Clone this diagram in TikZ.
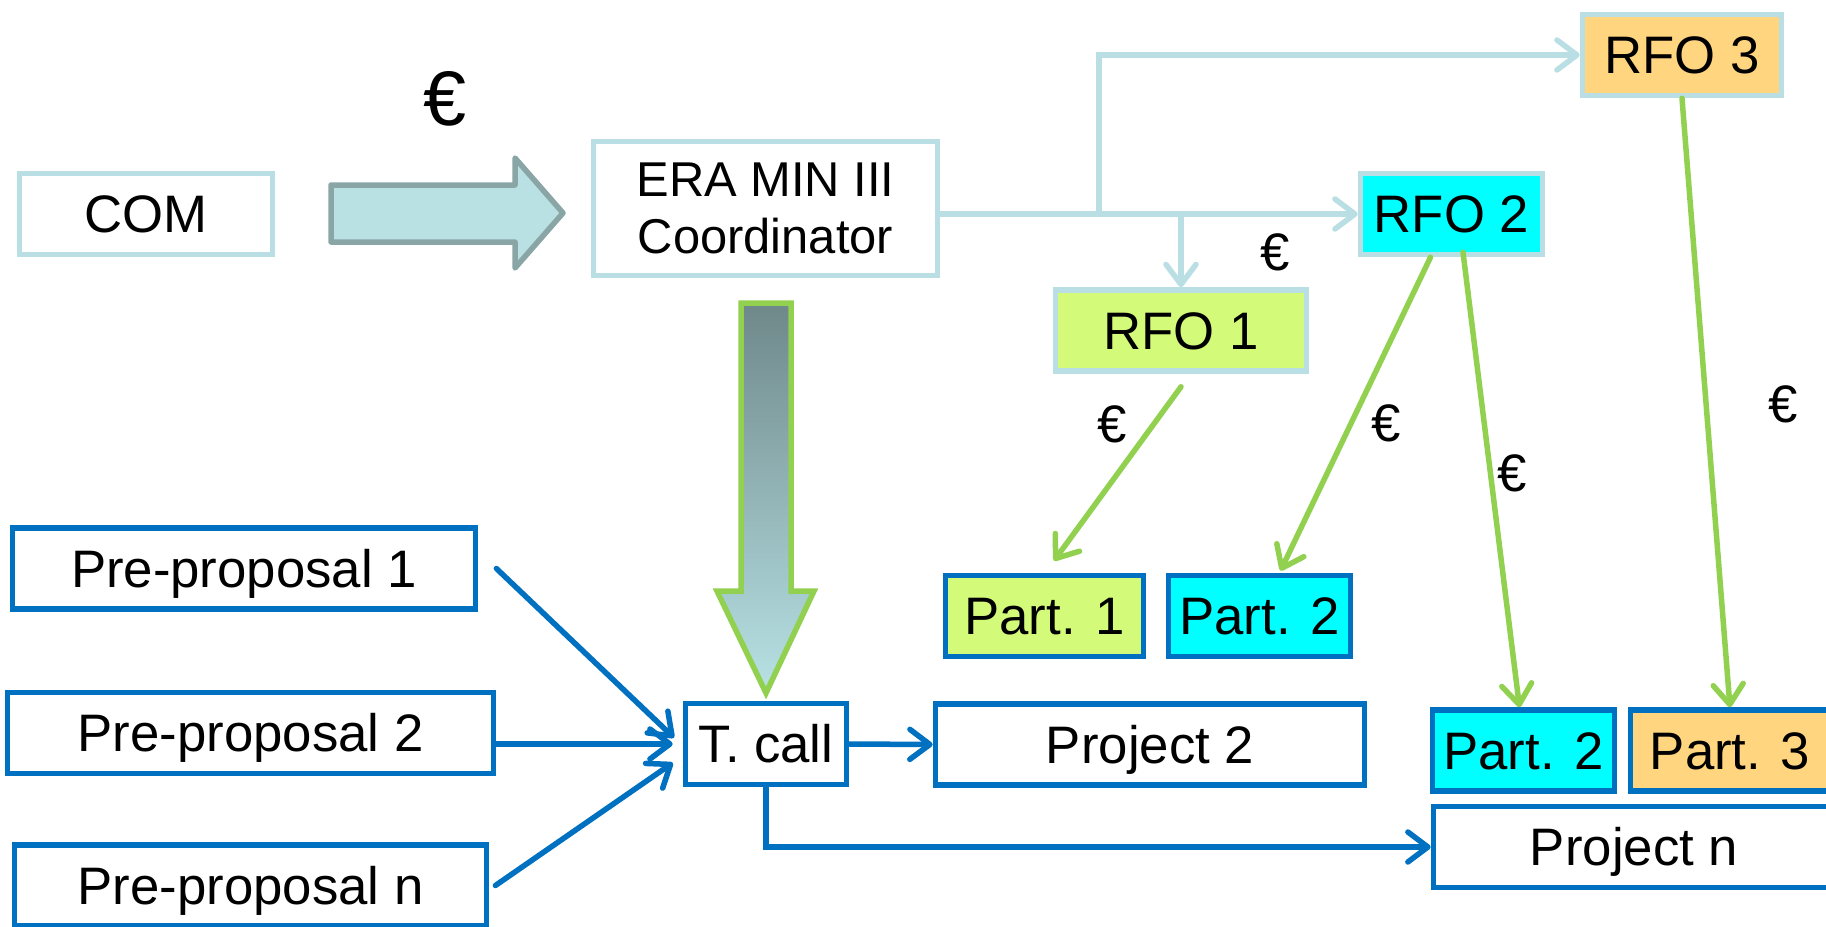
\documentclass[tikz,border=0pt]{standalone}
\usepackage{fontspec}
\setmainfont{Liberation Sans}
\usetikzlibrary{arrows.meta}
\definecolor{lblue}{HTML}{B9DFE4}
\definecolor{fblue}{HTML}{0070C0}
\definecolor{lgreen}{HTML}{92D050}
\definecolor{rfoone}{HTML}{D4FA7A}
\definecolor{rfotwo}{HTML}{00FFFF}
\definecolor{rfothree}{HTML}{FFD580}
\definecolor{arrfill}{HTML}{B9E0E3}
\definecolor{arredge}{HTML}{8AA5A5}
\definecolor{arrdark}{HTML}{6F888A}
\definecolor{arrlight}{HTML}{B8E2E5}

\tikzset{
  base/.style={draw,line width=0.055cm,inner sep=0pt,minimum height=0.81cm},
  lbbox/.style={base,draw=lblue,text height=11.8pt,text depth=1pt,font=\fontsize{15}{18}\selectfont},
  bbox/.style={base,draw=fblue,text height=11.8pt,text depth=1pt,font=\fontsize{15}{18}\selectfont},
  barbed/.style={-{Straight Barb[length=0.2cm,width=0.3cm,round]},line width=0.055cm,line cap=round},
  lbline/.style={barbed,lblue},
  gline/.style={barbed,lgreen},
  bline/.style={barbed,fblue},
  eur/.style={font=\fontsize{15}{18}\selectfont}
}

\begin{document}
\begin{tikzpicture}[x=0.01cm,y=-0.01cm]
    \path[use as bounding box,clip] (0,0) rectangle (1826,927);

    \draw[arredge,fill=arrfill,line width=0.055cm,line join=round] (331,185) -- (515,185) -- (515,158) -- (563,213) -- (515,268) -- (515,242) -- (331,242) -- cycle;
    \draw[lgreen,line width=0.055cm,top color=arrdark,bottom color=arrlight] (741,303) -- (791,303) -- (791,591) -- (814,591) -- (766,693) -- (717,591) -- (741,591) -- cycle;

    \node[lbbox,minimum width=2.53cm] (com) at (146,214) {COM};
    \node[base,draw=lblue,minimum width=3.44cm,minimum height=1.34cm,align=center,font=\fontsize{13.9}{16.2}\selectfont] (era) at (765.5,208.5) {ERA MIN III\\Coordinator};

    \node[lbbox,fill=rfothree,minimum width=1.99cm] (rfo3) at (1682,55) {RFO 3};
    \node[lbbox,fill=rfotwo,minimum width=1.82cm] (rfo2) at (1451.5,214) {RFO 2};
    \node[lbbox,fill=rfoone,minimum width=2.51cm] (rfo1) at (1181,330.5) {RFO 1};

    \node[bbox,fill=rfoone,minimum width=1.98cm] (part1) at (1044.5,616) {Part. 1};
    \node[bbox,fill=rfotwo,minimum width=1.82cm] (part2a) at (1259.5,616) {Part. 2};
    \node[bbox,fill=rfotwo,minimum width=1.82cm] (part2b) at (1523.5,750.5) {Part. 2};
    \node[bbox,fill=rfothree,minimum width=1.99cm] (part3) at (1730,750.5) {Part. 3};
    \node[bbox,minimum width=4.29cm] (proj2) at (1150,744.5) {Project 2};
    \node[bbox,minimum width=4.01cm] (projn) at (1634,847) {Project n};

    \node[bbox,minimum width=1.61cm] (tcall) at (766,744) {T. call};
    \node[bbox,minimum width=4.63cm] (pre1) at (244,568.5) {Pre-proposal 1};
    \node[bbox,minimum width=4.86cm] (pre2) at (250.5,733) {Pre-proposal 2};
    \node[bbox,minimum width=4.72cm] (pren) at (250.5,885.5) {Pre-proposal n};

    \node[font=\fontsize{22}{26}\selectfont] (eur0) at (445,99) {€};
    \node[eur] (eur1) at (1275,252) {€};
    \node[eur] (eur2) at (1112,424) {€};
    \node[eur] (eur3) at (1386,423) {€};
    \node[eur] (eur4) at (1512,473) {€};
    \node[eur] (eur5) at (1783,404) {€};

    \coordinate (split) at (1099,214);
    \draw[lbline] (era.east |- rfo2.west) -- (rfo2.west);
    \draw[lbline] (split) |- (rfo3.west);
    \draw[lbline] (rfo1.north |- rfo2.west) -- (rfo1.north);

    \draw[gline] ([yshift=-0.13cm]rfo1.south) -- ([shift={(0.095cm,0.12cm)}]part1.north);
    \draw[gline] ([xshift=-0.21cm]rfo2.south) -- ([shift={(0.21cm,0.02cm)}]part2a.north);
    \draw[gline] ([shift={(0.115cm,0.05cm)}]rfo2.south) -- ([xshift=-0.04cm]part2b.north);
    \draw[gline] (rfo3.south) -- (part3.north);

    \draw[bline,shorten >=0.12cm] ([xshift=0.18cm]pre1.east) -- ([yshift=-0.02cm]tcall.west);
    \draw[bline,shorten >=0.1cm] (pre2.east |- tcall.west) -- (tcall.west);
    \draw[bline,shorten >=0.12cm] ([xshift=0.06cm]pren.east) -- ([yshift=-0.12cm]tcall.west);
    \draw[bline] (tcall.east) -- (proj2.west);
    \draw[bline] (tcall.south) |- (projn.west);
\end{tikzpicture}
\end{document}
